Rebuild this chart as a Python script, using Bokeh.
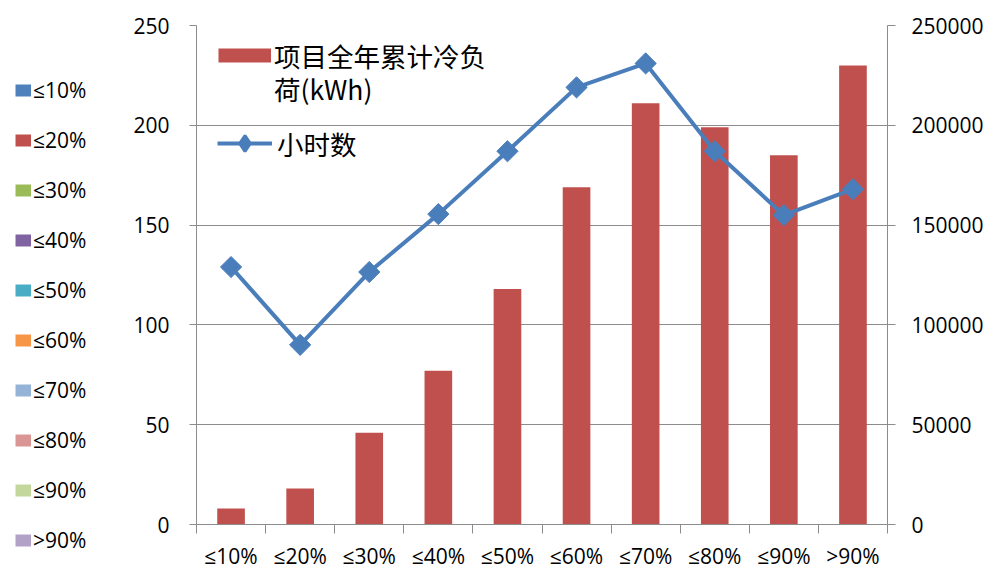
from bokeh.plotting import figure
from bokeh.layouts import row
from bokeh.models import (Range1d, LinearAxis, FixedTicker, Legend, LegendItem,
                          BasicTickFormatter)
from bokeh.embed import file_html
from bokeh.resources import INLINE

# ---- data ----
categories = ["≤10%", "≤20%", "≤30%", "≤40%", "≤50%", "≤60%", "≤70%", "≤80%", "≤90%", ">90%"]
cooling_load = [8000, 18000, 46000, 77000, 118000, 169000, 211000, 199000, 185000, 230000]
hours = [129, 90, 126.5, 155.5, 187, 219, 231, 187, 155, 168]
left_ticks = [0, 50, 100, 150, 200, 250]
right_ticks = [0, 50000, 100000, 150000, 200000, 250000]
bar_name = "项目全年累计冷负"
bar_name_2 = "荷(kWh)"
line_name = "小时数"
category_colors = ["#4F81BD", "#C0504D", "#9BBB59", "#8064A2", "#4BACC6",
                   "#F79646", "#95B3D7", "#D99694", "#C3D69B", "#B3A2C7"]

BAR_COLOR = "#C0504D"
LINE_COLOR = "#4A7EBB"
GRID = "#8C8C8C"
TICK_FONT = "Open Sans"
CJK_FONT = "Noto Sans CJK SC"
NAN = float("nan")

xs = [i + 0.5 for i in range(len(categories))]

# ---- main chart ----
p = figure(width=877, height=572, x_range=Range1d(0, len(categories)),
           y_range=Range1d(left_ticks[0], left_ticks[-1]),
           output_backend="svg", toolbar_location=None,
           min_border_left=76, min_border_right=110,
           min_border_top=25, min_border_bottom=47)
p.extra_y_ranges = {"right": Range1d(right_ticks[0], right_ticks[-1])}
p.outline_line_color = None
p.background_fill_color = "white"
p.border_fill_color = "white"

# x axis: labels at centres, ticks on boundaries
xax = p.xaxis[0]
xax.ticker = FixedTicker(ticks=xs, minor_ticks=list(range(len(categories) + 1)))
xax.major_label_overrides = {x: c for x, c in zip(xs, categories)}
xax.major_tick_out = 0
xax.major_tick_in = 0
xax.minor_tick_out = 9
xax.minor_tick_in = 0
xax.minor_tick_line_color = GRID
xax.axis_line_color = GRID
xax.major_label_standoff = 8
xax.major_label_text_font = TICK_FONT
xax.major_label_text_font_size = "21px"
xax.major_label_text_color = "black"
p.xgrid.visible = False

# left axis
yax = p.yaxis[0]
yax.ticker = FixedTicker(ticks=left_ticks)
yax.minor_tick_out = 0
yax.minor_tick_in = 0
yax.major_tick_out = 7
yax.major_tick_in = 0
yax.major_tick_line_color = GRID
yax.axis_line_color = GRID
yax.major_label_standoff = 20
yax.major_label_text_font = TICK_FONT
yax.major_label_text_font_size = "21px"
yax.major_label_text_color = "black"
p.ygrid.ticker = FixedTicker(ticks=left_ticks)
p.ygrid.grid_line_color = GRID
p.ygrid.grid_line_width = 1

# right axis
rax = LinearAxis(y_range_name="right", ticker=FixedTicker(ticks=right_ticks),
                 formatter=BasicTickFormatter(use_scientific=False))
rax.minor_tick_out = 0
rax.minor_tick_in = 0
rax.major_tick_out = 8
rax.major_tick_in = 0
rax.major_tick_line_color = GRID
rax.axis_line_color = GRID
rax.major_label_standoff = 16
rax.major_label_text_font = TICK_FONT
rax.major_label_text_font_size = "21px"
rax.major_label_text_color = "black"
p.add_layout(rax, "right")

# data
p.vbar(x=xs, top=cooling_load, width=0.4, y_range_name="right",
       fill_color=BAR_COLOR, line_color=None)
ln = p.line(x=xs, y=hours, line_color=LINE_COLOR, line_width=4)
p.scatter(x=xs, y=hours, marker="square", size=15, angle=0.785398,
          fill_color=LINE_COLOR, line_color=LINE_COLOR)

# legend swatches (invisible placeholder renderers)
bar_swatch = p.line(x=[NAN], y=[NAN], line_color=BAR_COLOR, line_width=14)
blank_swatch = p.line(x=[NAN], y=[NAN], line_color="white", line_alpha=0)
diamond_swatch = p.scatter(x=[NAN], y=[NAN], marker="diamond", fill_color=LINE_COLOR,
                           line_color=LINE_COLOR, line_width=3)


def make_legend(fig, items, loc, gw, gh, standoff, spacing, font, size, place="center"):
    lg = Legend(items=items, location=loc, glyph_width=gw, glyph_height=gh,
                label_height=gh, label_standoff=standoff, spacing=spacing,
                padding=0, margin=0, border_line_color=None,
                background_fill_alpha=0, label_text_font=font,
                label_text_font_size=size, label_text_color="black")
    fig.add_layout(lg, place)
    return lg


make_legend(p, [LegendItem(label=bar_name, renderers=[bar_swatch])],
            (22, 449), 53, 40, 3, 0, CJK_FONT, "26.5px")
make_legend(p, [LegendItem(label=bar_name_2, renderers=[blank_swatch])],
            (22, 416), 53, 40, 3, 0, CJK_FONT, "26.5px")
make_legend(p, [LegendItem(label=line_name, renderers=[ln, diamond_swatch])],
            (21, 361), 55, 40, 5, 0, CJK_FONT, "26.5px")

# ---- category legend panel on the left ----
lf = figure(width=120, height=572, x_range=Range1d(0, 1), y_range=Range1d(0, 1),
            x_axis_type=None, y_axis_type=None, output_backend="svg",
            toolbar_location=None, min_border=0)
lf.outline_line_color = None
lf.grid.visible = False
cat_swatches = [lf.line(x=[NAN], y=[NAN], line_color=c, line_width=12) for c in category_colors]
make_legend(lf, [LegendItem(label=c, renderers=[r]) for c, r in zip(categories, cat_swatches)],
            (15, -34), 16, 36, 2, 14, TICK_FONT, "21px", place="left")

open("out.html", "w").write(file_html(row(lf, p), INLINE))
